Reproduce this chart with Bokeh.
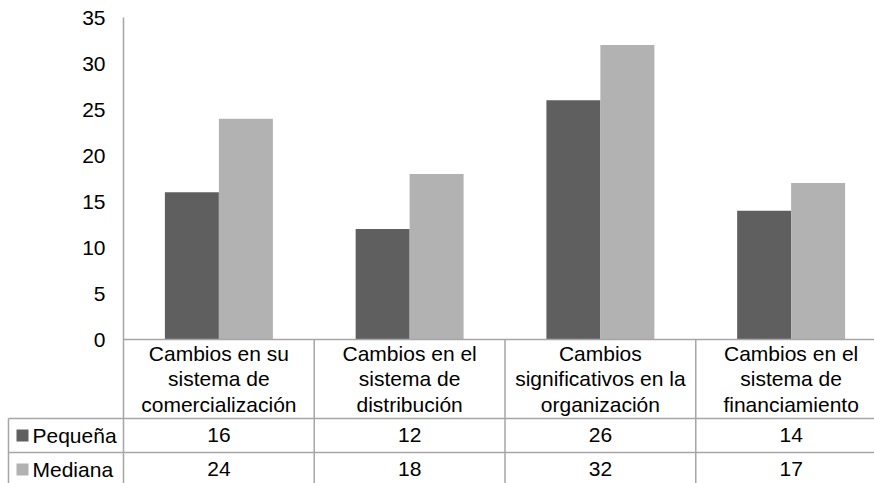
from bokeh.plotting import figure
from bokeh.models import Range1d
from bokeh.core.properties import value
from bokeh.embed import file_html
from bokeh.resources import INLINE

categories = [
    "Cambios en su\nsistema de\ncomercialización",
    "Cambios en el\nsistema de\ndistribución",
    "Cambios\nsignificativos en la\norganización",
    "Cambios en el\nsistema de\nfinanciamiento",
]
series_names = ["Pequeña", "Mediana"]
pequena = [16, 12, 26, 14]
mediana = [24, 18, 32, 17]
yticks = [0, 5, 10, 15, 20, 25, 30, 35]

colors = ["#5f5f5f", "#b2b2b2"]
grid_color = "#a6a6a6"
FONT = "Liberation Sans"
FS = "21px"

# layout in data units (one category = 1 unit wide)
n = len(categories)
header_bottom = -8.587
row1_bottom = -12.28
row2_bottom = -15.98
table_left = -0.603

p = figure(width=874, height=483, output_backend="svg", toolbar_location=None,
           x_range=Range1d(-0.6448, 3.937), y_range=Range1d(-15.652, 36.848),
           x_axis_type=None, y_axis_type=None,
           min_border_left=0, min_border_right=0, min_border_top=0, min_border_bottom=0)
p.outline_line_color = None
p.xgrid.visible = False
p.ygrid.visible = False

centers = [i + 0.5 for i in range(n)]
off = 0.1415
bw = 0.283
p.vbar(x=[c - off for c in centers], top=pequena, bottom=0, width=bw,
       fill_color=colors[0], line_color=None)
p.vbar(x=[c + off for c in centers], top=mediana, bottom=0, width=bw,
       fill_color=colors[1], line_color=None)

# axis line + table grid
lw = 1.5
p.segment(x0=[0], y0=[max(yticks)], x1=[0], y1=[row2_bottom], line_color=grid_color, line_width=lw)
p.segment(x0=list(range(1, n)), y0=[0] * (n - 1), x1=list(range(1, n)), y1=[row2_bottom] * (n - 1),
          line_color=grid_color, line_width=lw)
p.segment(x0=[0, table_left, table_left], y0=[0, header_bottom, row1_bottom],
          x1=[n, n, n], y1=[0, header_bottom, row1_bottom], line_color=grid_color, line_width=lw)
p.segment(x0=[table_left], y0=[header_bottom], x1=[table_left], y1=[row2_bottom],
          line_color=grid_color, line_width=lw)

# y tick labels
p.text(x=[-0.0944] * len(yticks), y=yticks, text=[str(t) for t in yticks],
       text_font=value(FONT), text_font_size=FS, text_align="right", text_baseline="middle",
       text_color="#000000")

# category labels
p.text(x=centers, y=[header_bottom / 2] * n, text=categories,
       text_font=value(FONT), text_font_size=FS, text_align="center", text_baseline="middle",
       text_line_height=1.12, text_color="#000000")

# table rows
row_y = [(header_bottom + row1_bottom) / 2, (row1_bottom + row2_bottom) / 2]
for vals, yy in zip([pequena, mediana], row_y):
    p.text(x=centers, y=[yy] * n, text=[str(v) for v in vals],
           text_font=value(FONT), text_font_size=FS, text_align="center", text_baseline="middle",
           text_color="#000000")

p.scatter(x=[-0.5295] * 2, y=row_y, marker="square", size=12, fill_color=colors, line_color=None)
p.text(x=[-0.477] * 2, y=row_y, text=series_names,
       text_font=value(FONT), text_font_size=FS, text_align="left", text_baseline="middle",
       text_color="#000000")

open("out.html", "w").write(file_html(p, INLINE))
